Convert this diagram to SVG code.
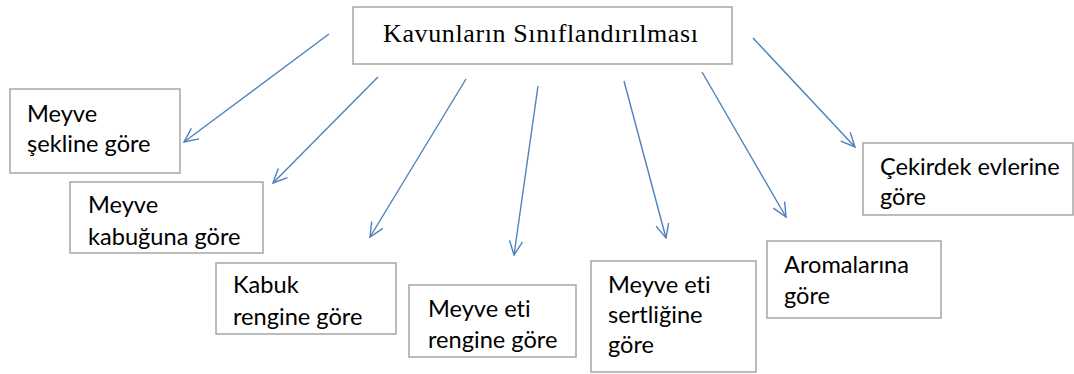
<svg xmlns="http://www.w3.org/2000/svg" width="1074" height="374" viewBox="0 0 1074 374">
<style>
.box{fill:#fff;stroke:#a6a6a6;stroke-width:1.5}
.t{font-family:"Lato","Open Sans","Liberation Sans",sans-serif;font-size:23.6px;fill:#000;font-variant-ligatures:none}
.title{font-family:"Liberation Serif","Times New Roman",serif;font-size:26px;fill:#000}
.c{stroke:#4f81bd;stroke-width:1.4;fill:none;marker-end:url(#ah)}
</style>
<defs>
<marker id="ah" viewBox="0 0 16 16" refX="15" refY="8" markerWidth="16" markerHeight="16" markerUnits="userSpaceOnUse" orient="auto">
<path d="M1,1.5 L15,8 L1,14.5" fill="none" stroke="#4f81bd" stroke-width="1.4"/>
</marker>
</defs>
<rect width="1074" height="374" fill="#fff"/>
<g id="connectors">
<line class="c" x1="329" y1="34" x2="184" y2="142"/>
<line class="c" x1="378" y1="77" x2="273" y2="183"/>
<line class="c" x1="466" y1="79" x2="370" y2="237"/>
<line class="c" x1="538" y1="86" x2="514" y2="255"/>
<line class="c" x1="624" y1="81" x2="666" y2="238"/>
<line class="c" x1="702" y1="72" x2="786" y2="217"/>
<line class="c" x1="753" y1="38" x2="855" y2="147"/>
</g>
<g id="root">
<rect class="box" x="353" y="7" width="379" height="57"/>
<text class="title" x="383" y="42" textLength="315" lengthAdjust="spacing">Kavunların Sınıflandırılması</text>
</g>
<g id="n1">
<rect class="box" x="10" y="89" width="170" height="84"/>
<text class="t" x="27" y="122">Meyve</text>
<text class="t" x="27" y="152">şekline göre</text>
</g>
<g id="n2">
<rect class="box" x="70" y="182" width="193" height="71"/>
<text class="t" x="88" y="213">Meyve</text>
<text class="t" x="88" y="245">kabuğuna göre</text>
</g>
<g id="n3">
<rect class="box" x="216" y="263" width="180" height="71"/>
<text class="t" x="233" y="293">Kabuk</text>
<text class="t" x="233" y="325">rengine göre</text>
</g>
<g id="n4">
<rect class="box" x="409" y="285" width="167" height="72"/>
<text class="t" x="428" y="317">Meyve eti</text>
<text class="t" x="428" y="348">rengine göre</text>
</g>
<g id="n5">
<rect class="box" x="591" y="261" width="165" height="111"/>
<text class="t" x="608" y="293">Meyve eti</text>
<text class="t" x="608" y="323">sertliğine</text>
<text class="t" x="608" y="353">göre</text>
</g>
<g id="n6">
<rect class="box" x="767" y="241" width="174" height="77"/>
<text class="t" x="784" y="273">Aromalarına</text>
<text class="t" x="784" y="304">göre</text>
</g>
<g id="n7">
<rect class="box" x="863" y="143" width="210" height="72"/>
<text class="t" x="880" y="175">Çekirdek evlerine</text>
<text class="t" x="880" y="205">göre</text>
</g>
</svg>
